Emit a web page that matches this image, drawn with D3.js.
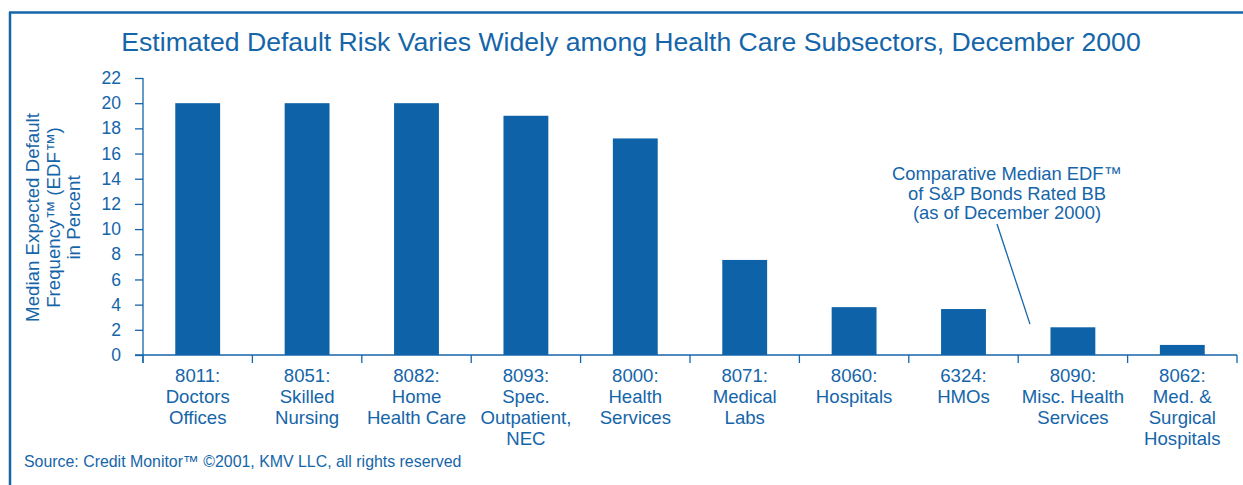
<!DOCTYPE html>
<html>
<head>
<meta charset="utf-8">
<script src="https://cdn.jsdelivr.net/npm/d3@7"></script>
<style>
  body { margin: 0; background: #fff; }
  svg { display: block; font-family: "Liberation Sans", Arial, sans-serif; }
</style>
</head>
<body>
<svg id="chart"></svg>
<script>
// category labels (line-split), one per bar
const codes = ["8011:", "8051:", "8082:", "8093:", "8000:", "8071:", "8060:", "6324:", "8090:", "8062:"];
const names = [
  ["Doctors", "Offices"],
  ["Skilled", "Nursing"],
  ["Home", "Health Care"],
  ["Spec.", "Outpatient,", "NEC"],
  ["Health", "Services"],
  ["Medical", "Labs"],
  ["Hospitals"],
  ["HMOs"],
  ["Misc. Health", "Services"],
  ["Med. &", "Surgical", "Hospitals"]
];
const edf = [20, 20, 20, 19, 17.2, 7.55, 3.8, 3.65, 2.2, 0.8];
const yTicks = [0, 2, 4, 6, 8, 10, 12, 14, 16, 18, 20, 22];

const title = "Estimated Default Risk Varies Widely among Health Care Subsectors, December 2000";
const yLabel = ["Median Expected Default", "Frequency\u2122 (EDF\u2122)", "in Percent"];
const note = ["Comparative Median EDF\u2122", "of S&P Bonds Rated BB", "(as of December 2000)"];
const source = "Source: Credit Monitor\u2122 \u00a92001, KMV LLC, all rights reserved";

const width = 1243, height = 485;
const margin = {top: 78, right: 6, bottom: 130, left: 143};
const blue = "#1565a9";
const barBlue = "#0e62a8";

const svg = d3.select("#chart")
  .attr("width", width)
  .attr("height", height)
  .attr("viewBox", [0, 0, width, height]);

// frame: top + left rule only
svg.append("line").attr("x1", 9).attr("x2", width).attr("y1", 12.5).attr("y2", 12.5)
  .attr("stroke", blue).attr("stroke-width", 2.5);
svg.append("line").attr("x1", 10).attr("x2", 10).attr("y1", 12).attr("y2", height)
  .attr("stroke", blue).attr("stroke-width", 2.5);

svg.append("text")
  .attr("x", 631).attr("y", 51)
  .attr("text-anchor", "middle")
  .attr("font-size", 26.6)
  .attr("fill", blue)
  .text(title);

var x = d3.scaleBand()
  .domain(d3.range(codes.length))
  .range([margin.left, width - margin.right])
  .paddingInner(0.59)
  .paddingOuter(0.295);

var band = d3.scaleBand()
  .domain(d3.range(codes.length))
  .range([margin.left, width - margin.right]);

var y = d3.scaleLinear()
  .domain([0, 22])
  .range([height - margin.bottom, margin.top]);

svg.append("g")
  .selectAll("rect")
  .data(edf)
  .join("rect")
  .attr("x", (d, i) => x(i))
  .attr("width", x.bandwidth())
  .attr("y", d => y(d))
  .attr("height", d => y(0) - y(d))
  .attr("fill", barBlue);

// y axis
const yAxis = svg.append("g")
  .attr("transform", `translate(${margin.left},0)`)
  .call(d3.axisLeft(y).tickValues(yTicks).tickSize(8).tickPadding(14).tickSizeOuter(0));
yAxis.select(".domain").remove();
yAxis.append("line")
  .attr("x1", 0).attr("x2", 0)
  .attr("y1", y(22)).attr("y2", y(0) + 8)
  .attr("stroke", blue).attr("stroke-width", 1.3);
yAxis.selectAll(".tick line").attr("stroke", blue).attr("stroke-width", 1.3);
yAxis.selectAll(".tick text")
  .attr("fill", blue)
  .attr("font-size", 17.5)
  .attr("font-family", "Liberation Sans, Arial, sans-serif");

// x axis: baseline plus ticks at band boundaries
const xg = svg.append("g");
xg.append("line")
  .attr("x1", margin.left - 8).attr("x2", width - margin.right)
  .attr("y1", y(0)).attr("y2", y(0))
  .attr("stroke", blue).attr("stroke-width", 1.3);
xg.selectAll(".xtick")
  .data(d3.range(codes.length + 1))
  .join("line")
  .attr("class", "xtick")
  .attr("x1", i => i < codes.length ? band(i) : band(i - 1) + band.bandwidth())
  .attr("x2", i => i < codes.length ? band(i) : band(i - 1) + band.bandwidth())
  .attr("y1", y(0)).attr("y2", y(0) + 8)
  .attr("stroke", blue).attr("stroke-width", 1.3);

xg.selectAll(".xlabel")
  .data(codes)
  .join("text")
  .attr("class", "xlabel")
  .attr("text-anchor", "middle")
  .attr("fill", blue)
  .attr("font-size", 18.6)
  .attr("transform", (d, i) => `translate(${band(i) + band.bandwidth() / 2},${y(0) + 27})`)
  .selectAll("tspan")
  .data((d, i) => [d].concat(names[i]))
  .join("tspan")
  .attr("x", 0)
  .attr("dy", (d, j) => j === 0 ? 0 : 21)
  .text(d => d);

// y axis title
svg.append("text")
  .attr("transform", `translate(39,${(y(0) + y(22)) / 2 + 1}) rotate(-90)`)
  .attr("text-anchor", "middle")
  .attr("fill", blue)
  .attr("font-size", 18.7)
  .selectAll("tspan")
  .data(yLabel)
  .join("tspan")
  .attr("x", 0)
  .attr("dy", (d, j) => j === 0 ? 0 : 20.5)
  .text(d => d);

// annotation
svg.append("text")
  .attr("x", 1007).attr("y", 180)
  .attr("text-anchor", "middle")
  .attr("fill", blue)
  .attr("font-size", 18.4)
  .selectAll("tspan")
  .data(note)
  .join("tspan")
  .attr("x", 1007)
  .attr("dy", (d, j) => j === 0 ? 0 : 19.5)
  .text(d => d);
svg.append("line")
  .attr("x1", 997).attr("y1", y(10.4))
  .attr("x2", 1030).attr("y2", y(2.45))
  .attr("stroke", blue).attr("stroke-width", 1.3);

svg.append("text")
  .attr("x", 24).attr("y", 467)
  .attr("fill", blue)
  .attr("font-size", 15.9)
  .text(source);
</script>
</body>
</html>
